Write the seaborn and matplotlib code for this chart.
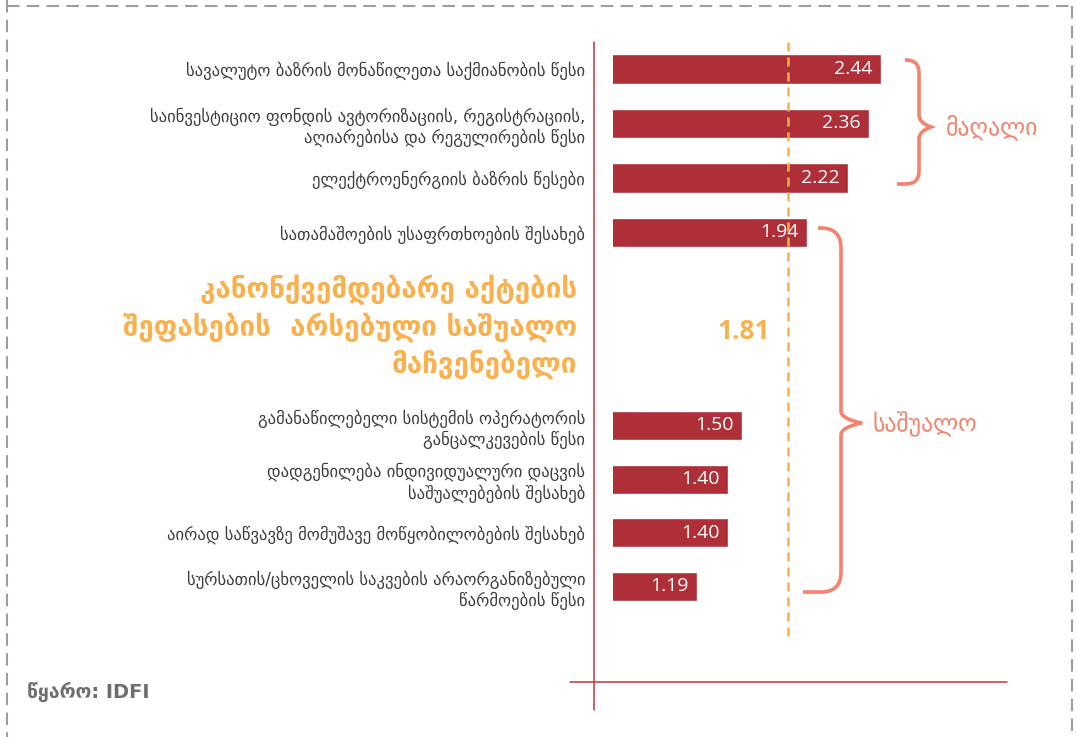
import matplotlib
matplotlib.use("Agg")
import matplotlib.pyplot as plt
from matplotlib.lines import Line2D
from matplotlib.path import Path
from matplotlib.patches import PathPatch
from matplotlib import transforms
import seaborn as sns
import pandas as pd

# data
categories = [
    "სავალუტო ბაზრის მონაწილეთა საქმიანობის წესი",
    "საინვესტიციო ფონდის ავტორიზაციის, რეგისტრაციის,\nაღიარებისა და რეგულირების წესი",
    "ელექტროენერგიის ბაზრის წესები",
    "სათამაშოების უსაფრთხოების შესახებ",
    "გამანაწილებელი სისტემის ოპერატორის\nგანცალკევების წესი",
    "დადგენილება ინდივიდუალური დაცვის\nსაშუალებების შესახებ",
    "აირად საწვავზე მომუშავე მოწყობილობების შესახებ",
    "სურსათის/ცხოველის საკვების არაორგანიზებული\nწარმოების წესი",
]
scores = [2.44, 2.36, 2.22, 1.94, 1.50, 1.40, 1.40, 1.19]
panel = ["top", "top", "top", "top", "bottom", "bottom", "bottom", "bottom"]
average = 1.81
average_title = "კანონქვემდებარე აქტების\nშეფასების  არსებული საშუალო\nმაჩვენებელი"
group_labels = ["მაღალი", "საშუალო"]
source = "წყარო: IDFI"

BAR = "#ae2f38"
LINE_RED = "#c1353d"
ORANGE = "#fbb04e"
SALMON = "#f4826c"
TEXT = "#3d3d3d"

W, H = 1076, 737
sns.set_theme(style="white")
plt.rcParams["font.family"] = ["DejaVu Sans"]

df = pd.DataFrame({"category": categories, "score": scores, "panel": panel})

fig = plt.figure(figsize=(W / 100, H / 100), dpi=100)
pix = transforms.Affine2D().scale(1 / W, -1 / H).translate(0, 1) + fig.transFigure

ax_top = fig.add_axes([613 / W, 0.6476, 394 / W, 0.2958])
ax_bot = fig.add_axes([613 / W, 0.1678, 394 / W, 0.2913])

for ax, name in [(ax_top, "top"), (ax_bot, "bottom")]:
    sub = df[df.panel == name]
    sns.barplot(data=sub, x="score", y="category", color=BAR, saturation=1,
                width=0.54, ax=ax)
    ax.set_xlim(0.62, 0.62 + 394 / 147)
    ax.set_xlabel("")
    ax.set_ylabel("")
    ax.set_xticks([])
    sns.despine(ax=ax, left=True, bottom=True)
    ax.tick_params(axis="y", length=0, pad=20, labelsize=12, labelcolor=TEXT)
    for i, v in enumerate(sub.score):
        ax.annotate(f"{v:.2f}", xy=(v, i), xytext=(-6, 0), textcoords="offset points",
                    ha="right", va="center", color="white", fontsize=14,
                    family=["Open Sans", "DejaVu Sans"])

# average line across both panels
blend = transforms.blended_transform_factory(ax_top.transData, pix)
fig.add_artist(Line2D([average, average], [42, 640], transform=blend, color=ORANGE,
                      lw=1.8, linestyle=(0, (3.6, 2.4))))
ax_top.annotate(f"{average:.2f}", xy=(average, 332), xycoords=blend, xytext=(-13, 0),
                textcoords="offset points", ha="right", va="center", color=ORANGE,
                fontsize=19, fontweight="bold", family=["Open Sans", "DejaVu Sans"])
fig.text(577, 327, average_title, transform=pix, ha="right", va="center", color=ORANGE,
         fontsize=20, fontweight="bold", linespacing=1.3)

# red cross lines
fig.add_artist(Line2D([594, 594], [42, 710], transform=pix, color=LINE_RED, lw=1.1))
fig.add_artist(Line2D([570, 1007], [682, 682], transform=pix, color=LINE_RED, lw=1.1))

# dashed frame
for xs, ys in [([7, 7], [0, 737]), ([7, 1072], [6, 6]), ([1072, 1072], [6, 737])]:
    fig.add_artist(Line2D(xs, ys, transform=pix, color="#9d9d9d", lw=1.5,
                          linestyle=(0, (6, 3.5))))


def brace(x_top, y_top, x_bot, y_bot, x_v, x_tip, y_tip, r=12):
    verts = [(x_top, y_top), (x_v - r, y_top), (x_v, y_top), (x_v, y_top + r),
             (x_v, y_tip - 12), (x_v, y_tip - 4), (x_tip, y_tip),
             (x_v, y_tip + 4), (x_v, y_tip + 12),
             (x_v, y_bot - r), (x_v, y_bot), (x_v - r, y_bot), (x_bot, y_bot)]
    codes = [Path.MOVETO, Path.LINETO, Path.CURVE3, Path.CURVE3,
             Path.LINETO, Path.CURVE3, Path.CURVE3,
             Path.CURVE3, Path.CURVE3,
             Path.LINETO, Path.CURVE3, Path.CURVE3, Path.LINETO]
    fig.add_artist(PathPatch(Path(verts, codes), transform=pix, fill=False,
                             edgecolor=SALMON, lw=2.6, capstyle="butt"))


brace(905, 60, 897, 184, 919, 931, 127, r=13)
brace(818, 228, 803, 592, 841, 862, 423, r=20)
fig.text(946, 127, group_labels[0], transform=pix, ha="left", va="center",
         color=SALMON, fontsize=17)
fig.text(872, 423, group_labels[1], transform=pix, ha="left", va="center",
         color=SALMON, fontsize=17)

fig.text(27, 692, source, transform=pix, ha="left", va="center", color="#6d6e71",
         fontsize=14, fontweight="bold")

fig.savefig("out.png", dpi=100)
